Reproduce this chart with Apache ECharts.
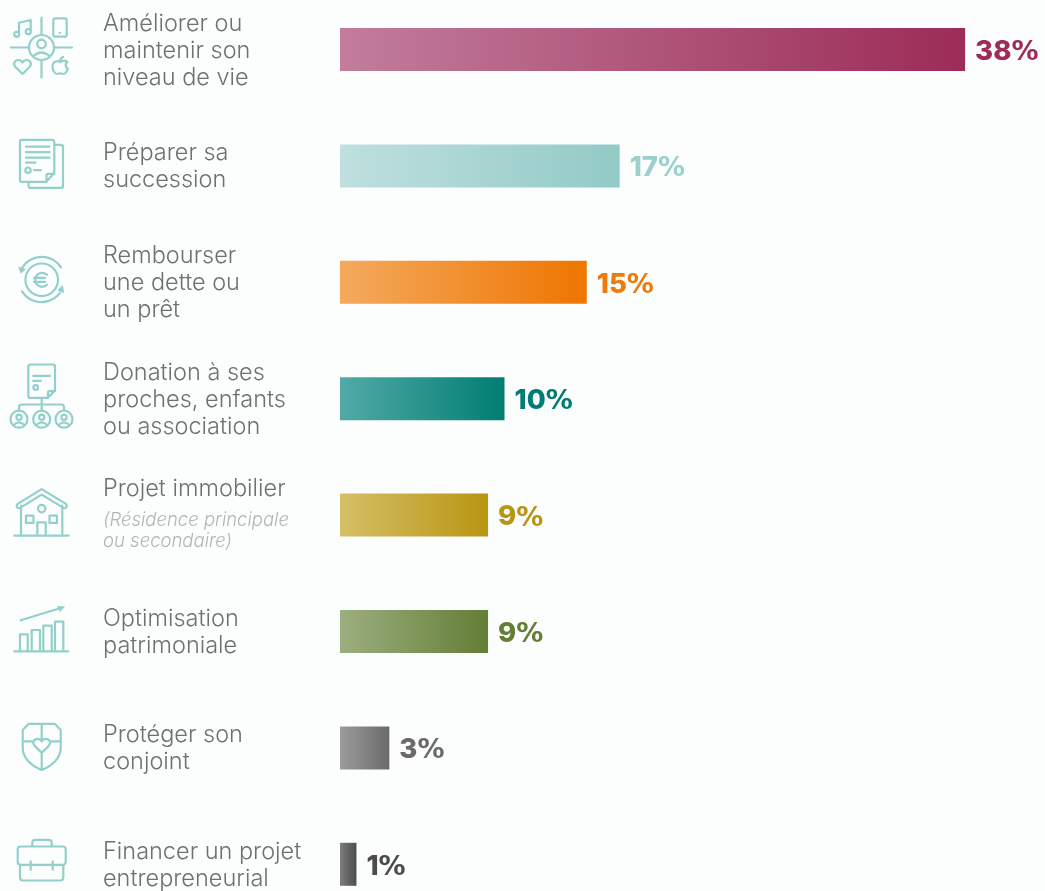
<!DOCTYPE html>
<html lang="fr">
<head>
<meta charset="utf-8">
<title>Motivations</title>
<style>
  html, body { margin: 0; padding: 0; background: #fcfdfd; }
  #chart { width: 1045px; height: 891px; }
</style>
<script src="https://cdn.jsdelivr.net/npm/echarts@6/dist/echarts.min.js"></script>
</head>
<body>
<div id="chart"></div>
<script>
// Category wording, one line per array entry
const categories = [
  ['Améliorer ou', 'maintenir son', 'niveau de vie'],
  ['Préparer sa', 'succession'],
  ['Rembourser', 'une dette ou', 'un prêt'],
  ['Donation à ses', 'proches, enfants', 'ou association'],
  ['Projet immobilier'],
  ['Optimisation', 'patrimoniale'],
  ['Protéger son', 'conjoint'],
  ['Financer un projet', 'entrepreneurial']
];
const notes = ['', '', '', '', ['(Résidence principale', 'ou secondaire)'], '', '', ''];
const values = [38, 17, 15, 10, 9, 9, 3, 1];
const colorsFrom = ['#c27d9c', '#bfe0df', '#f4aa5e', '#52aaa6', '#d5bf66', '#9cae7f', '#9c9c9c', '#7d7d7d'];
const colorsTo = ['#9c2c58', '#92cac6', '#ee7500', '#007e73', '#b89512', '#637e36', '#6a6a6a', '#4c4c4c'];
const labelColors = ['#9e2b58', '#9bd0cc', '#ee7a0a', '#007e73', '#b89512', '#637e36', '#6a6a6a', '#4c4c4c'];

// Line pictograms, x from the page edge and y from the middle of the row
const heartPath = (x, y) =>
  `M${x} ${y + 14} L${x - 7} ${y + 7} C${x - 10} ${y + 3.5} ${x - 7.5} ${y} ${x - 4} ${y} C${x - 2} ${y} ${x - 0.8} ${y + 1} ${x} ${y + 2.5} C${x + 0.8} ${y + 1} ${x + 2} ${y} ${x + 4} ${y} C${x + 7.5} ${y} ${x + 10} ${y + 3.5} ${x + 7} ${y + 7} Z`;
const ring = (x, y, r) => `M${x - r} ${y} a${r} ${r} 0 1 0 ${2 * r} 0 a${r} ${r} 0 1 0 ${-2 * r} 0`;
const person = (x, y) => ring(x, y, 8.5) + ring(x, y - 2, 2.6) + `M${x - 5} ${y + 5.5} Q${x} ${y + 1} ${x + 5} ${y + 5.5}`;

const iconStrokes = [
  'M11 -2 H29 M54 -2 H72 M41.5 -32 V-14.5 M41.5 10.5 V28' + ring(41.5, -2, 12.5) + ring(41.5, -5.5, 4.3) +
    'M34 6 Q41.5 0 49 6' + ring(16.7, -15.2, 2.5) + ring(28.3, -17.8, 2.5) + 'M19 -16 V-26.8 L30.7 -29.5 V-18.5' +
    'M55.3 -31.2 H64.7 a2 2 0 0 1 2 2 V-14.8 a2 2 0 0 1 -2 2 H55.3 a2 2 0 0 1 -2 -2 V-29.2 a2 2 0 0 1 2 -2 M59.6 -16.6 h0.4' +
    heartPath(22.5, 10.5) +
    'M60 12.5 C57 10.5 52.5 12 52.5 17 C52.5 21 55 24.5 57 24.5 C58.5 24.5 59 23.8 60 23.8 C61 23.8 61.5 24.5 63 24.5 C65 24.5 67 22 68 19 C65 18 65 13.5 67.5 12.5 C65.5 10.5 62.5 11 60 12.5 M60 12 C60 10 61 8.5 63 7.5',
  'M54.3 -24 a2 2 0 0 0 -2 -2 H22 a2 2 0 0 0 -2 2 V14 a2 2 0 0 0 2 2 H46 L54.3 7 Z M46.5 16 V9.5 Q46.5 8 48 8 H54.3' +
    'M54.3 -21 H61 a2 2 0 0 1 2 2 V20 a2 2 0 0 1 -2 2 H30.5 a2 2 0 0 1 -2 -2 V16' +
    'M26 -19.3 H49.5 M26 -13.7 H49.5 M26 -8.3 H49.5 M26 -3.3 H35.5 M34 4.3 H41' + ring(28, 4.3, 2.7),
  ring(41.7, -2.5, 16.3) + 'M22.5 -15 A23 23 0 0 1 61 -15 M22 9 A23 23 0 0 0 60 10.5 M47 -7.5 A7 7 0 1 0 47 2.5 M34 -4.5 H45 M34 -0.5 H45',
  'M30.3 -34.2 H53 a2 2 0 0 1 2 2 V-8 L47.5 -0.8 H30.3 a2 2 0 0 1 -2 -2 V-32.2 a2 2 0 0 1 2 -2 M48 -0.8 V-6 Q48 -7.5 49.5 -7.5 H55' +
    'M33.3 -22.8 H50 M33.3 -17.8 H40.7' + ring(35.7, -11.2, 2.3) +
    'M41.7 -0.8 V11.5 M19 11.5 V8.5 Q19 5.8 21.7 5.8 H61.3 Q64 5.8 64 8.5 V11.5' +
    person(19, 20.5) + person(41.7, 20.5) + person(64, 20.5),
  'M41.7 -26 L65.5 -11.5 Q68 -9 66 -7.5 Q64.5 -6.5 63 -7.5 L41.7 -20.5 L20.5 -7.5 Q19 -6.5 17.5 -7.5 Q15.5 -9 18 -11.5 Z' +
    'M21 -9.5 V20.5 M62.3 -9.5 V20.5 M14.3 20.5 H68.7' + ring(41.7, -6.5, 3.7) +
    'M26 0.5 H33.5 V7.8 H26 Z M49.5 0.5 H57 V7.8 H49.5 Z M37.3 20.5 V7.2 H45.7 V20.5',
  'M14.3 19.8 H68.3 M20 19.8 V2.8 H27.7 V19.8 M31.7 19.8 V-1.5 H40 V19.8 M43.3 19.8 V-5.8 H51.7 V19.8 M55 19.8 V-9.8 H63.3 V19.8 M20.7 -11.2 L60 -23.2',
  'M28.5 -24 H55 L60.7 -18 V0 C60.7 10 52 18 41.7 22 C31.5 18 22.7 10 22.7 0 V-18 Z' +
    'M41.7 -24 V-9 M41.7 6 V22 M22.7 -6.5 H32.5 M50.9 -6.5 H60.7' + heartPath(41.7, -9),
  'M32.3 -17.8 V-21.5 Q32.3 -24.5 35.3 -24.5 H48.7 Q51.7 -24.5 51.7 -21.5 V-17.8' +
    'M20.7 -17.8 H62.7 a3 3 0 0 1 3 3 V-2.5 a3 3 0 0 1 -3 3 H20.7 a3 3 0 0 1 -3 -3 V-14.8 a3 3 0 0 1 3 -3' +
    'M20 0.5 V13.2 a3 3 0 0 0 3 3 H60.3 a3 3 0 0 0 3 -3 V0.5 M30.7 -2.8 V5.5 M52.7 -2.8 V5.5'
];
const iconFills = [
  '', '',
  'M18.3 -15.8 L26 -13.2 L20.7 -8.5 Z M64.3 10.8 L57.3 8.2 L62.7 2.5 Z',
  '', '', 'M57 -25.5 L65 -25 L60 -19.5 Z', '', ''
];
const iconColor = '#93cfcb';

function categoryLabel(_, idx) {
  const lines = categories[idx].map(l => '{main|' + l + '}');
  if (notes[idx]) {
    const noteLines = notes[idx].map((l, i) => (i === 0 ? '{noteFirst|' : '{note|') + l + '}');
    return lines.concat(noteLines, '{gap| }').join('\n');
  }
  return lines.join('\n');
}

const barData = values.map((v, i) => ({
  value: v,
  itemStyle: {
    color: new echarts.graphic.LinearGradient(0, 0, 1, 0, [
      { offset: 0, color: colorsFrom[i] },
      { offset: 1, color: colorsTo[i] }
    ])
  },
  label: {
    formatter: '{n|' + v + '}{p|%}',
    rich: {
      n: { color: labelColors[i], fontFamily: 'Inter', fontWeight: 800, fontSize: 27.5 },
      p: { color: labelColors[i], fontFamily: 'DejaVu Sans', fontWeight: 700, fontSize: 27, padding: [3, 0, 0, 0] }
    }
  }
}));

const chart = echarts.init(document.getElementById('chart'), null, { renderer: 'canvas' });
chart.setOption({
  animation: false,
  backgroundColor: '#fcfdfd',
  grid: { left: 340, width: 658, top: -8.7, height: 931.2, outerBoundsMode: 'none' },
  xAxis: { type: 'value', min: 0, max: 40, show: false },
  yAxis: {
    type: 'category',
    inverse: true,
    data: categories.map(c => c.join(' ')),
    axisLine: { show: false },
    axisTick: { show: false },
    axisLabel: {
      align: 'left',
      margin: 237,
      interval: 0,
      padding: [2, 0, 0, 0],
      formatter: categoryLabel,
      rich: {
        main: { fontFamily: 'Inter', fontWeight: 300, fontSize: 23.5, lineHeight: 27, color: '#6f7070' },
        noteFirst: { fontFamily: 'Inter', fontWeight: 300, fontStyle: 'italic', fontSize: 18.5, lineHeight: 27.75, color: '#b3b5b5', verticalAlign: 'bottom' },
        note: { fontFamily: 'Inter', fontWeight: 300, fontStyle: 'italic', fontSize: 18.5, lineHeight: 22, color: '#b3b5b5' },
        gap: { fontSize: 4, lineHeight: 4.5 }
      }
    }
  },
  series: [
    {
      type: 'bar',
      barWidth: 43,
      data: barData,
      label: { show: true, position: 'right', distance: 10, offset: [0, 2] }
    },
    {
      type: 'custom',
      silent: true,
      clip: false,
      data: values.map((_, i) => [0, i]),
      encode: { x: 0, y: 1 },
      renderItem(params, api) {
        const i = api.value(1);
        const y = api.coord([0, i])[1];
        return {
          type: 'group',
          x: 0,
          y: y,
          children: [
            { type: 'path', shape: { pathData: iconStrokes[i] }, style: { fill: 'none', stroke: iconColor, lineWidth: 2.2, lineCap: 'round', lineJoin: 'round' } },
            { type: 'path', shape: { pathData: iconFills[i] || 'M0 0' }, style: { fill: iconColor, stroke: 'none' } }
          ]
        };
      }
    }
  ]
});
</script>
</body>
</html>
